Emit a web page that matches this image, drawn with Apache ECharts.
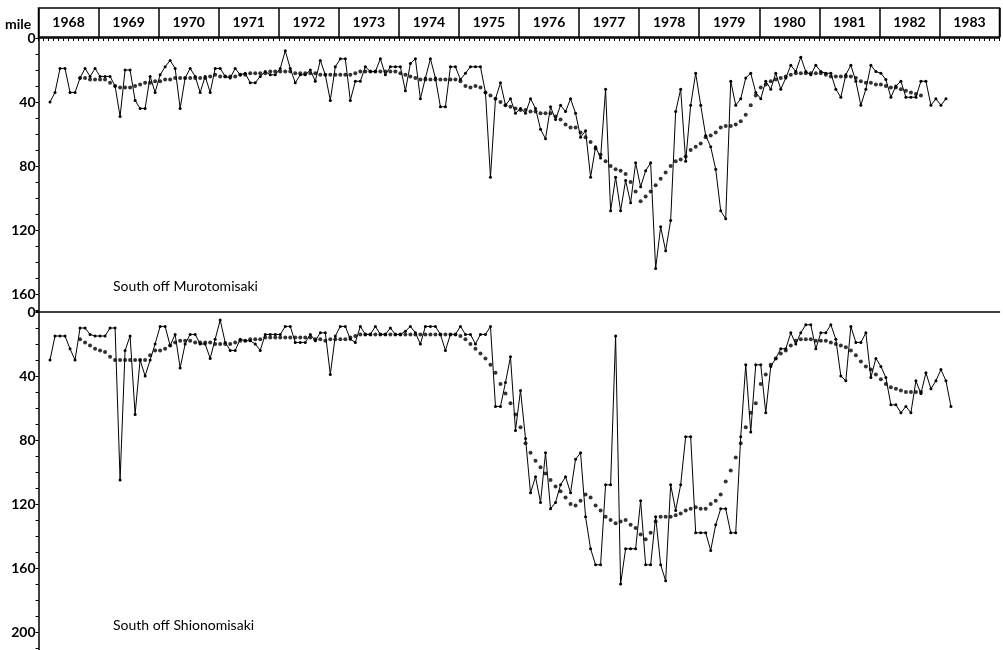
<!DOCTYPE html>
<html>
<head>
<meta charset="utf-8">
<script src="https://cdn.jsdelivr.net/npm/echarts@6/dist/echarts.min.js"></script>
<style>html,body{margin:0;padding:0;background:#fff}#c{width:1003px;height:650px}</style>
</head>
<body>
<div id="c"></div>
<script>
// ---- data (monthly, index 0 = Jan 1968) ----
const years = ['1968','1969','1970','1971','1972','1973','1974','1975','1976','1977','1978','1979','1980','1981','1982','1983'];
const yTickLabels = [0, 40, 80, 120, 160, 200];

// South off Murotomisaki: monthly distance (mile)
const muroMonthly = [
  null,null,40,34,19,19,34,34,25,19,24,19,
  24,24,24,30,49,20,20,39,44,44,24,34,
  23,18,14,19,44,25,19,24,34,24,34,19,
  19,24,25,19,23,22,28,28,24,21,23,23,
  19,8,19,28,23,23,20,27,14,23,39,18,
  13,13,39,27,27,18,21,21,13,23,18,18,
  18,33,16,13,38,25,13,25,43,43,18,18,
  26,22,18,18,18,34,87,38,28,42,38,47,
  44,47,38,44,57,63,43,51,42,46,38,47,
  62,58,87,68,75,32,108,87,108,89,103,78,
  93,83,78,144,118,133,114,46,32,77,42,22,
  42,61,68,82,108,113,27,42,38,25,22,34,
  38,27,32,22,32,25,17,21,12,21,23,17,
  21,22,22,32,37,23,17,27,42,32,17,21,
  22,26,37,30,27,37,37,37,27,27,42,38,
  42,38
];
// South off Murotomisaki: running mean
const muroMean = [
  null,null,null,null,null,null,null,null,25,25,26,26,
  26,26,28,30,31,31,31,30,29,28,28,27,
  27,26,26,25,25,25,25,25,25,25,24,23,
  24,24,24,24,23,23,22,22,22,22,21,21,
  21,21,21,22,22,22,22,22,23,23,23,23,
  23,23,23,22,21,21,21,21,21,21,21,21,
  22,23,24,25,26,26,26,26,26,26,26,26,
  27,30,31,30,31,34,36,38,40,42,43,44,
  45,45,46,46,47,47,47,49,51,54,56,56,
  59,62,65,69,73,77,80,82,83,85,90,96,
  102,99,96,92,88,84,80,77,76,74,70,68,
  66,62,61,59,56,55,55,54,52,48,42,36,
  31,29,27,26,25,24,23,22,22,22,22,22,
  22,23,24,24,24,24,24,25,27,28,28,29,
  29,30,31,31,32,33,34,35,36
];
// South off Shionomisaki: monthly distance (mile)
const shioMonthly = [
  null,null,30,15,15,15,23,30,10,10,14,15,
  15,15,10,10,105,24,15,64,30,40,30,20,
  9,9,21,14,35,20,14,14,20,20,29,17,
  5,19,24,24,17,18,18,20,24,14,14,14,
  14,9,9,19,19,19,14,18,13,13,39,15,
  9,9,17,19,9,14,14,9,14,14,10,14,
  14,12,9,13,20,9,9,9,14,24,14,14,
  9,14,14,20,14,14,9,59,59,44,28,74,
  49,79,113,103,119,88,123,119,108,103,113,92,
  88,128,148,158,158,108,108,15,170,148,148,148,
  118,158,158,128,158,168,108,124,108,78,78,138,
  138,138,149,133,123,123,138,138,78,33,75,33,
  33,63,34,29,23,23,13,20,13,8,8,23,
  13,13,8,17,40,43,9,19,19,13,41,29,
  34,41,58,58,63,59,63,43,51,38,48,43,
  36,43,59
];
// South off Shionomisaki: running mean
const shioMean = [
  null,null,null,null,null,null,null,null,17,19,21,23,
  24,25,28,30,30,30,30,30,30,30,27,24,
  24,23,21,19,18,18,18,19,19,19,19,20,
  20,20,20,19,18,18,17,17,17,16,16,16,
  16,16,16,16,16,16,16,17,17,18,17,17,
  17,17,16,15,14,14,14,14,14,14,14,14,
  14,14,14,14,14,14,14,14,14,14,14,14,
  15,17,20,23,26,29,33,38,45,51,57,64,
  72,82,88,93,97,101,105,109,112,116,120,121,
  118,114,116,121,124,128,130,132,131,130,133,135,
  139,142,138,131,128,128,128,127,126,124,123,122,
  123,123,120,118,114,106,99,91,82,72,63,57,
  45,39,33,29,26,24,21,18,17,17,17,18,
  18,18,19,20,21,22,24,27,31,34,36,39,
  42,45,47,48,49,50,50,50,50
];

function toPts(arr) {
  const out = [];
  arr.forEach((v, i) => { if (v !== null) out.push([i + 0.3, v]); });
  return out;
}

const chart = echarts.init(document.getElementById('c'), null, {renderer: 'canvas'});
const FONT = 'Lato';
const black = '#000';
const yLabel = {
  fontFamily: FONT, fontWeight: 'bold', fontSize: 14, color: black, margin: 3,
  formatter: v => (yTickLabels.indexOf(v) >= 0 ? String(v) : '')
};

chart.setOption({
  animation: false,
  backgroundColor: '#fff',
  grid: [
    {left: 38.5, width: 961, top: 8, height: 29, show: true, borderColor: black, borderWidth: 1.5, backgroundColor: 'transparent'},
    {left: 38.5, width: 961, top: 38, height: 273},
    {left: 38.5, width: 961, top: 312, height: 338}
  ],
  xAxis: [
    {gridIndex: 0, type: 'category', data: years, position: 'top', boundaryGap: true,
     axisLine: {show: false}, axisTick: {show: false},
     splitLine: {show: true, lineStyle: {color: black, width: 1.5}},
     axisLabel: {inside: true, margin: 7, fontFamily: FONT, fontWeight: 'bold', fontSize: 14, color: black, verticalAlign: 'top'}},
    {gridIndex: 1, type: 'value', min: 0, max: 192, interval: 12, position: 'top',
     axisLine: {show: true, lineStyle: {color: black, width: 1.5}},
     axisTick: {show: true, inside: true, length: 3, lineStyle: {color: black}},
     minorTick: {show: true, splitNumber: 12, length: 3, lineStyle: {color: black}},
     axisLabel: {show: false}, splitLine: {show: false}},
    {gridIndex: 2, type: 'value', min: 0, max: 192, interval: 12, position: 'top',
     axisLine: {show: true, lineStyle: {color: black, width: 1.5}},
     axisTick: {show: false}, axisLabel: {show: false}, splitLine: {show: false}}
  ],
  yAxis: [
    {gridIndex: 0, type: 'value', show: false},
    {gridIndex: 1, type: 'value', inverse: true, min: 0, max: 170.6, interval: 10,
     axisLine: {show: true, lineStyle: {color: black, width: 1.5}},
     axisTick: {show: true, length: 3, lineStyle: {color: black}},
     axisLabel: yLabel, splitLine: {show: false}},
    {gridIndex: 2, type: 'value', inverse: true, min: 0, max: 211.25, interval: 10,
     axisLine: {show: true, lineStyle: {color: black, width: 1.5}},
     axisTick: {show: true, length: 3, lineStyle: {color: black}},
     axisLabel: yLabel, splitLine: {show: false}}
  ],
  graphic: [
    {type: 'text', left: 5, top: 17, style: {text: 'mile', font: 'bold 14px Lato', fill: black}},
    {type: 'text', left: 113, top: 279, style: {text: 'South off Murotomisaki', font: '14px Lato', fill: black}},
    {type: 'text', left: 113, top: 618, style: {text: 'South off Shionomisaki', font: '14px Lato', fill: black}}
  ],
  series: [
    {name: 'Murotomisaki monthly', type: 'line', xAxisIndex: 1, yAxisIndex: 1, data: toPts(muroMonthly),
     symbol: 'circle', symbolSize: 3, lineStyle: {color: black, width: 1}, itemStyle: {color: black}},
    {name: 'Murotomisaki mean', type: 'scatter', xAxisIndex: 1, yAxisIndex: 1, data: toPts(muroMean),
     symbol: 'circle', symbolSize: 4, itemStyle: {color: black}},
    {name: 'Shionomisaki monthly', type: 'line', xAxisIndex: 2, yAxisIndex: 2, data: toPts(shioMonthly),
     symbol: 'circle', symbolSize: 3, lineStyle: {color: black, width: 1}, itemStyle: {color: black}},
    {name: 'Shionomisaki mean', type: 'scatter', xAxisIndex: 2, yAxisIndex: 2, data: toPts(shioMean),
     symbol: 'circle', symbolSize: 4, itemStyle: {color: black}}
  ]
});
</script>
</body>
</html>
